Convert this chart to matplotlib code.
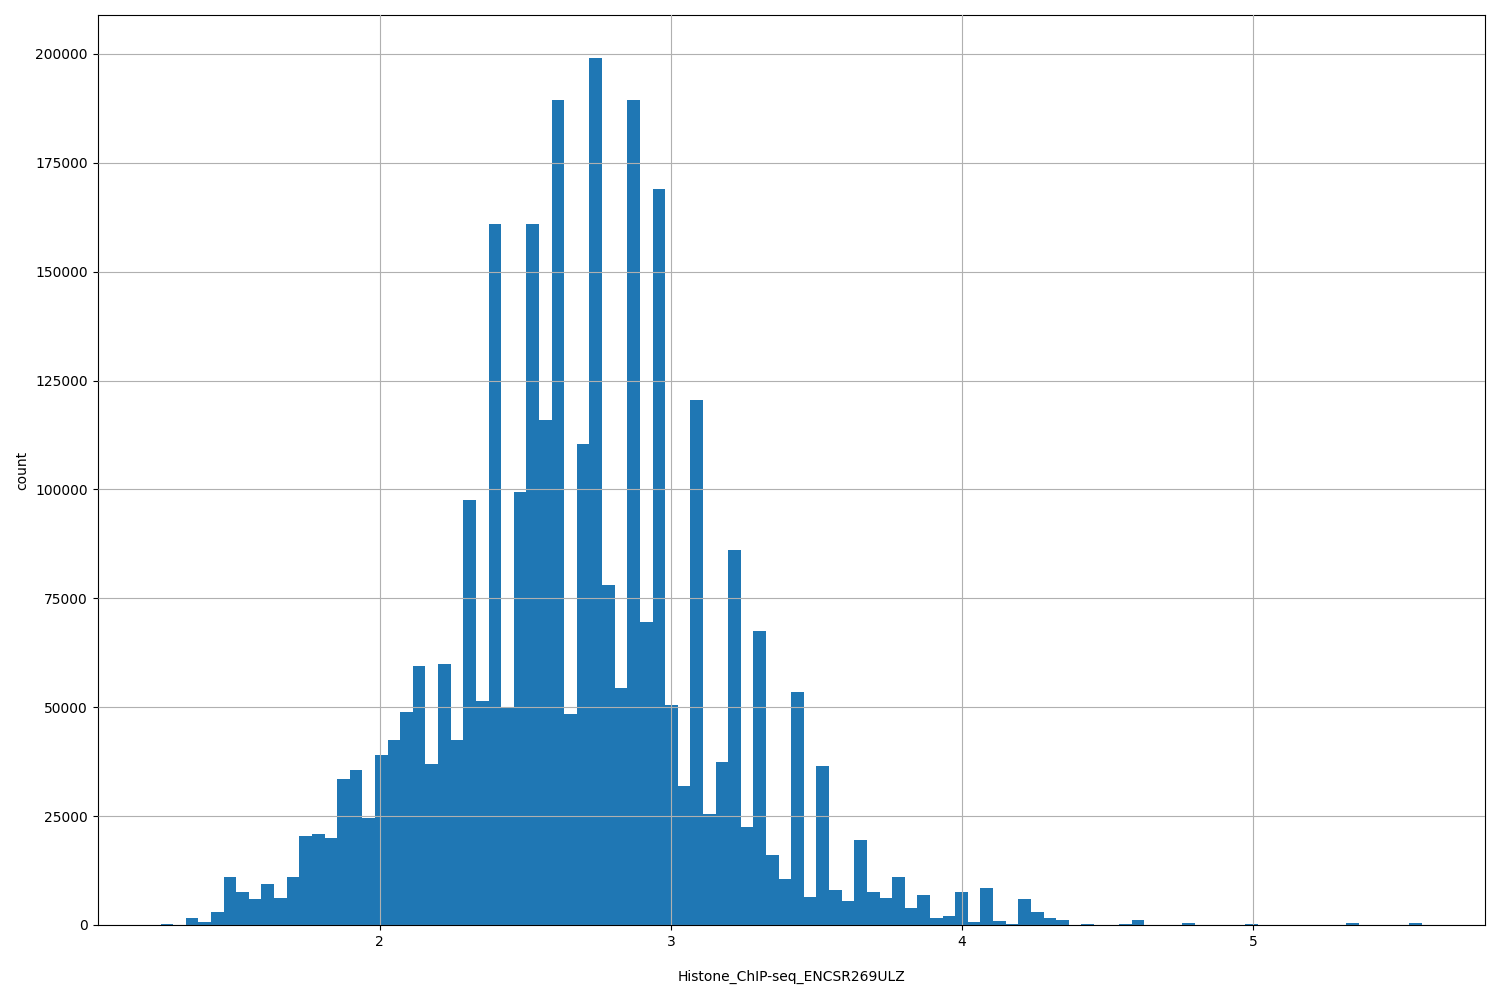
import numpy as np
import matplotlib
matplotlib.use("Agg")
import matplotlib.pyplot as plt

x_min = 1.247
x_max = 5.58
counts = [300, 0, 1500, 800, 3000, 11000, 7500, 6000, 9500, 6300,
          11000, 20500, 21000, 20000, 33500, 35500, 24500, 39000, 42500, 49000,
          59500, 37000, 60000, 42500, 97500, 51500, 161000, 50000, 99500, 161000,
          116000, 189500, 48500, 110500, 199000, 78000, 54500, 189500, 69500, 169000,
          50500, 32000, 120500, 25500, 37500, 86000, 22500, 67500, 16000, 10500,
          53500, 6500, 36500, 8000, 5500, 19500, 7500, 6200, 11000, 4000,
          7000, 1500, 2000, 7500, 800, 8500, 1000, 300, 6000, 3000,
          1500, 1200, 0, 300, 0, 0, 300, 1200, 0, 0,
          0, 500, 0, 0, 0, 0, 200, 0, 0, 0,
          0, 0, 0, 0, 500, 0, 0, 0, 0, 500]

edges = np.linspace(x_min, x_max, len(counts) + 1)
centers = (edges[:-1] + edges[1:]) / 2

fig = plt.figure(figsize=(15, 10), dpi=100)
ax = fig.add_axes([0.065, 0.075, 0.925, 0.91])
ax.hist(centers, bins=edges, weights=counts, color="#1f77b4")
ax.grid(True)
ax.set_axisbelow(False)
ax.set_xlabel("Histone_ChIP-seq_ENCSR269ULZ", labelpad=15)
ax.set_ylabel("count")
ax.set_xticks([2, 3, 4, 5])
fig.savefig("out.png")
